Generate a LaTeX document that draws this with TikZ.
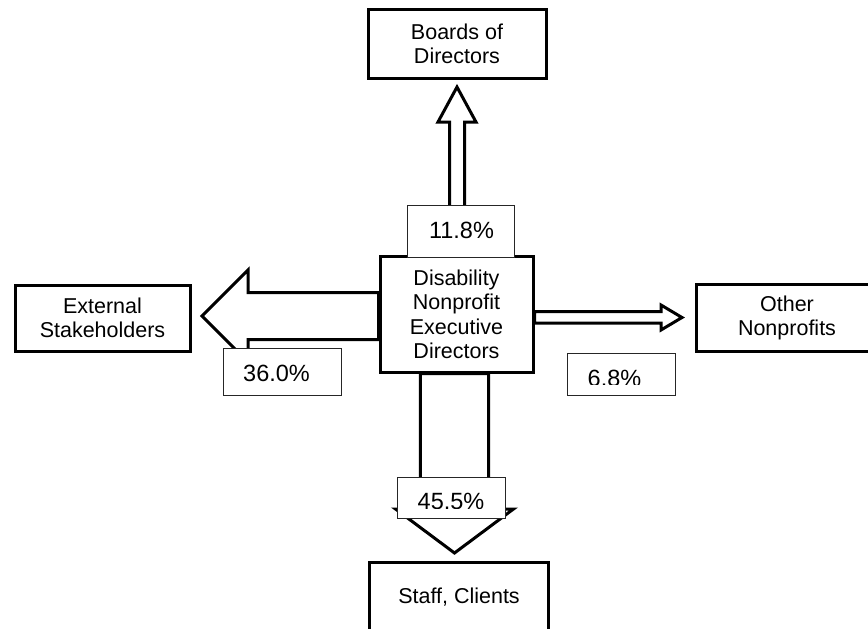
\documentclass[tikz,border=0pt]{standalone}
\usepackage{fontspec}
\setmainfont{Liberation Sans}
\pgfdeclarelayer{bg}
\pgfsetlayers{bg,main}
\begin{document}
\begin{tikzpicture}[x=1pt,y=-1pt,
  box/.style={draw=black, line width=3pt, fill=white, inner sep=0pt, align=center,
    font=\fontsize{21.5}{24.3}\selectfont},
  lbl/.style={draw=black!85, line width=0.9pt, fill=white, inner sep=0pt},
  pct/.style={anchor=base, inner sep=0pt, font=\fontsize{23.5}{26}\selectfont},
  barrow/.style={draw=black, line width=3pt, fill=white, miter limit=10}]
\useasboundingbox (0,0) rectangle (868,629);

% main boxes
\node[box, minimum width=178pt, minimum height=69pt] (bod) at (457,43.5) {Boards of\\Directors};
\node[box, minimum width=175pt, minimum height=66pt] (ext) at (102.5,318) {External\\Stakeholders};
\node[box, minimum width=182pt, minimum height=66.5pt] (oth) at (787,318) {Other\\Nonprofits};
\node[box, minimum width=179pt, minimum height=69pt] (stf) at (459,597) {Staff, Clients};
\node[box, minimum width=153pt, minimum height=115.5pt] (ctr) at (456.5,314.25)
  {Disability\\Nonprofit\\Executive\\Directors};

% block arrows (behind)
\begin{pgfonlayer}{bg}
\draw[barrow] (449.5,0 |- ctr.north) -- (449.5,122) -- (438,122) -- (457,87)
  -- (476,122) -- (464.5,122) -- (464.5,0 |- ctr.north) -- cycle;
\draw[barrow] (ctr.west |- 0,292.5) -- (248,292.5) -- (248,270) -- (202,316)
  -- (248,362) -- (248,339.5) -- (ctr.west |- 0,339.5) -- cycle;
\draw[barrow] (ctr.east |- 0,311.5) -- (661,311.5) -- (661,305) -- (682,317.5)
  -- (661,330) -- (661,323) -- (ctr.east |- 0,323) -- cycle;
\draw[barrow] (420.3,0 |- ctr.south) -- (420.3,509) -- (395.5,509) -- (454.5,553)
  -- (513.5,509) -- (488.7,509) -- (488.7,0 |- ctr.south) -- cycle;
\end{pgfonlayer}

% percentage labels
\node[lbl, minimum width=107pt, minimum height=52pt] (l118) at (460.5,231) {};
\node[pct] (p118) at (461.5,238) {11.8\%};

\node[lbl, minimum width=118pt, minimum height=47pt] (l360) at (282,371.5) {};
\node[pct] (p360) at (276.5,381) {36.0\%};

\node[lbl, minimum width=108pt, minimum height=42pt] (l68) at (621,374) {};
\begin{scope}
  \clip (567,353) rectangle (675,384.3);
  \node[pct] (p68) at (614.5,386.5) {6.8\%};
\end{scope}

\node[lbl, minimum width=108pt, minimum height=41pt] (l455) at (451,497.5) {};
\begin{scope}
  \clip (397,477) rectangle (505,508.3);
  \node[pct] (p455) at (451,509.8) {45.5\%};
\end{scope}
\end{tikzpicture}
\end{document}
